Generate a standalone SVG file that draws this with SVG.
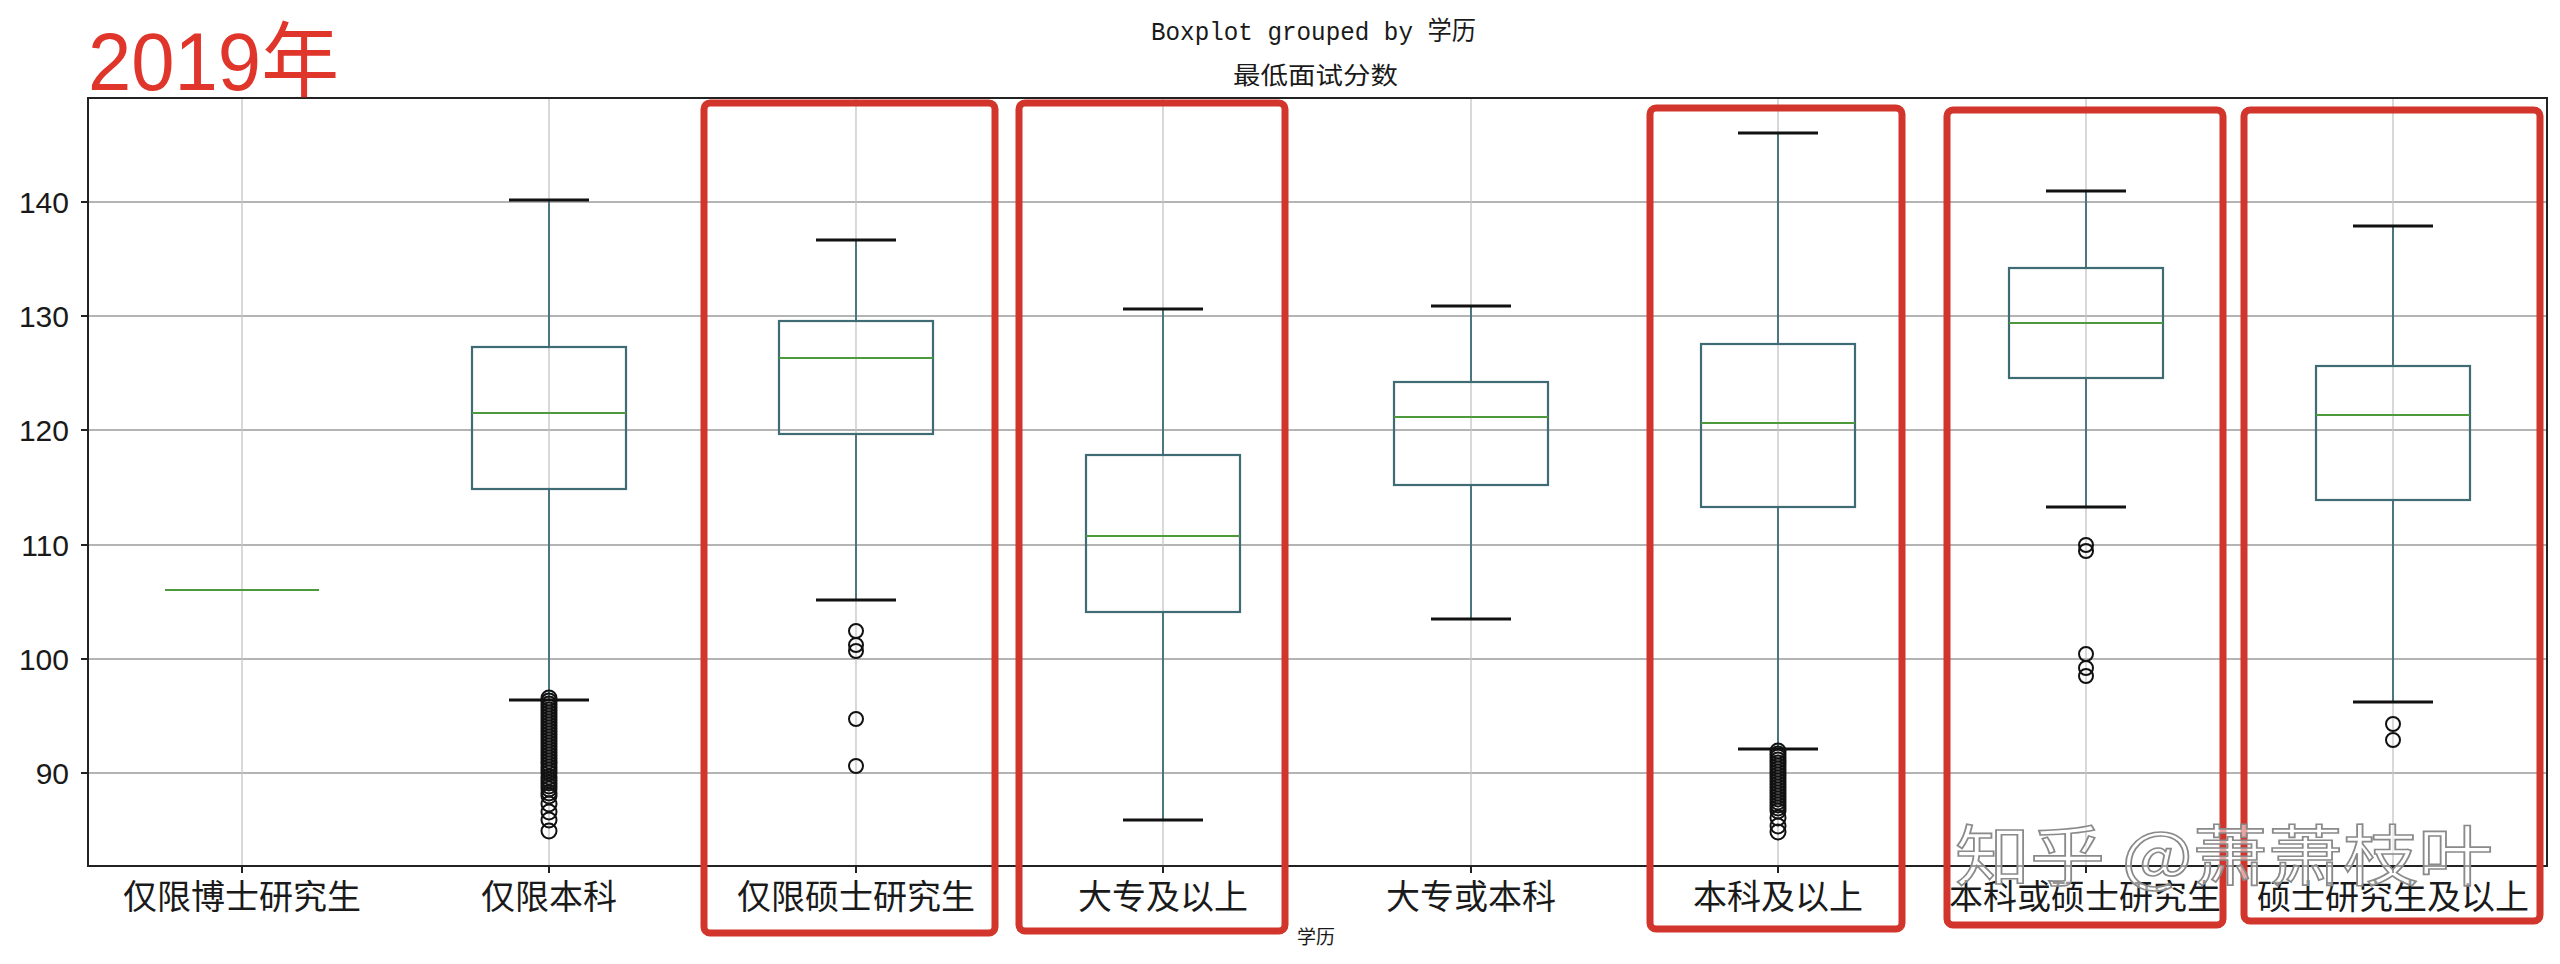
<svg xmlns="http://www.w3.org/2000/svg" width="2560" height="964" viewBox="0 0 2560 964">
<style>
.bg{fill:#ffffff}
.hgrid{stroke:#b4b4b4;stroke-width:2;fill:none}
.vgrid{stroke:#c4c4c4;stroke-width:1.3;fill:none}
.frame{stroke:#222;stroke-width:2;fill:none}
.tick{stroke:#222;stroke-width:2}
.box{stroke:#3f6b74;stroke-width:2.2;fill:none}
.whisk{stroke:#3f6b74;stroke-width:1.8}
.cap{stroke:#111;stroke-width:3}
.med{stroke:#4c9a3c;stroke-width:2.2}
.fl{stroke:#111;stroke-width:2;fill:none}
.hl{stroke:#d1352b;stroke-width:7;fill:none}
.ylab{font-family:"Liberation Sans",Arial,sans-serif;font-size:30px;fill:#1a1a1a;text-anchor:end}
.xlab{font-family:"Noto Sans CJK SC","Liberation Sans",sans-serif;font-size:34px;fill:#1a1a1a;text-anchor:middle}
.title{font-family:"Liberation Mono","Noto Sans CJK SC",monospace;font-size:26px;fill:#1a1a1a}
.sub{font-family:"Noto Sans CJK SC",sans-serif;font-size:24px;fill:#1a1a1a}
.year{font-family:"Liberation Sans","Noto Sans CJK SC",sans-serif;font-size:82px;fill:#e0352b}
.wm{font-family:"Noto Sans CJK SC",sans-serif;font-size:66px;fill:#ffffff;fill-opacity:0.55;stroke:#8a8a8a;stroke-width:1.6}
</style>
<rect class="bg" x="0" y="0" width="2560" height="964"/>

<g id="grid">
<line class="hgrid" x1="88" y1="202" x2="2547" y2="202"/>
<line class="hgrid" x1="88" y1="316" x2="2547" y2="316"/>
<line class="hgrid" x1="88" y1="430" x2="2547" y2="430"/>
<line class="hgrid" x1="88" y1="545" x2="2547" y2="545"/>
<line class="hgrid" x1="88" y1="659" x2="2547" y2="659"/>
<line class="hgrid" x1="88" y1="773" x2="2547" y2="773"/>
<line class="vgrid" x1="242" y1="98" x2="242" y2="866"/>
<line class="vgrid" x1="549" y1="98" x2="549" y2="866"/>
<line class="vgrid" x1="856" y1="98" x2="856" y2="866"/>
<line class="vgrid" x1="1163" y1="98" x2="1163" y2="866"/>
<line class="vgrid" x1="1471" y1="98" x2="1471" y2="866"/>
<line class="vgrid" x1="1778" y1="98" x2="1778" y2="866"/>
<line class="vgrid" x1="2086" y1="98" x2="2086" y2="866"/>
<line class="vgrid" x1="2393" y1="98" x2="2393" y2="866"/>
</g>

<g id="axes">
<rect class="frame" x="88" y="98" width="2459" height="768"/>
<line class="tick" x1="81" y1="202" x2="88" y2="202"/>
<line class="tick" x1="81" y1="316" x2="88" y2="316"/>
<line class="tick" x1="81" y1="430" x2="88" y2="430"/>
<line class="tick" x1="81" y1="545" x2="88" y2="545"/>
<line class="tick" x1="81" y1="659" x2="88" y2="659"/>
<line class="tick" x1="81" y1="773" x2="88" y2="773"/>
<line class="tick" x1="242" y1="866" x2="242" y2="873"/>
<line class="tick" x1="549" y1="866" x2="549" y2="873"/>
<line class="tick" x1="856" y1="866" x2="856" y2="873"/>
<line class="tick" x1="1163" y1="866" x2="1163" y2="873"/>
<line class="tick" x1="1471" y1="866" x2="1471" y2="873"/>
<line class="tick" x1="1778" y1="866" x2="1778" y2="873"/>
<line class="tick" x1="2086" y1="866" x2="2086" y2="873"/>
<line class="tick" x1="2393" y1="866" x2="2393" y2="873"/>
<text class="ylab" x="69" y="213">140</text>
<text class="ylab" x="69" y="327">130</text>
<text class="ylab" x="69" y="441">120</text>
<text class="ylab" x="69" y="556">110</text>
<text class="ylab" x="69" y="670">100</text>
<text class="ylab" x="69" y="784">90</text>
<text class="xlab" x="242" y="909">仅限博士研究生</text>
<text class="xlab" x="549" y="909">仅限本科</text>
<text class="xlab" x="856" y="909">仅限硕士研究生</text>
<text class="xlab" x="1163" y="909">大专及以上</text>
<text class="xlab" x="1471" y="909">大专或本科</text>
<text class="xlab" x="1778" y="909">本科及以上</text>
<text class="xlab" x="2085" y="909">本科或硕士研究生</text>
<text class="xlab" x="2393" y="909">硕士研究生及以上</text>
<text class="sub" x="1316" y="944" text-anchor="middle" style="font-size:19px">学历</text>
</g>

<g id="titles">
<text class="title" x="1151" y="40" textLength="325" lengthAdjust="spacingAndGlyphs">Boxplot grouped by 学历</text>
<text class="sub" x="1233" y="84" textLength="165" lengthAdjust="spacingAndGlyphs">最低面试分数</text>
<text class="year" x="88" y="90" textLength="251" lengthAdjust="spacingAndGlyphs">2019年</text>
</g>

<g id="box-1">
<line class="med" x1="165" y1="590" x2="319" y2="590"/>
</g>

<g id="box-2">
<line class="whisk" x1="549" y1="200" x2="549" y2="347"/>
<line class="whisk" x1="549" y1="489" x2="549" y2="700"/>
<line class="cap" x1="509" y1="200" x2="589" y2="200"/>
<line class="cap" x1="509" y1="700" x2="589" y2="700"/>
<rect class="box" x="472" y="347" width="154" height="142"/>
<line class="med" x1="472" y1="413" x2="626" y2="413"/>
<g class="fl">
<circle cx="549" cy="698" r="7.5"/><circle cx="549" cy="701" r="7.5"/><circle cx="549" cy="704" r="7.5"/><circle cx="549" cy="707" r="7.5"/><circle cx="549" cy="710" r="7.5"/><circle cx="549" cy="713" r="7.5"/><circle cx="549" cy="716" r="7.5"/><circle cx="549" cy="719" r="7.5"/><circle cx="549" cy="722" r="7.5"/><circle cx="549" cy="725" r="7.5"/><circle cx="549" cy="728" r="7.5"/><circle cx="549" cy="731" r="7.5"/><circle cx="549" cy="734" r="7.5"/><circle cx="549" cy="737" r="7.5"/><circle cx="549" cy="740" r="7.5"/><circle cx="549" cy="743" r="7.5"/><circle cx="549" cy="746" r="7.5"/><circle cx="549" cy="749" r="7.5"/><circle cx="549" cy="752" r="7.5"/><circle cx="549" cy="755" r="7.5"/><circle cx="549" cy="758" r="7.5"/><circle cx="549" cy="761" r="7.5"/><circle cx="549" cy="764" r="7.5"/><circle cx="549" cy="767" r="7.5"/><circle cx="549" cy="770" r="7.5"/><circle cx="549" cy="773" r="7.5"/><circle cx="549" cy="777" r="7.5"/><circle cx="549" cy="780" r="7.5"/><circle cx="549" cy="783" r="7.5"/><circle cx="549" cy="786" r="7.5"/><circle cx="549" cy="789" r="7.5"/><circle cx="549" cy="793" r="7.5"/><circle cx="549" cy="796" r="7.5"/><circle cx="549" cy="804" r="7.5"/><circle cx="549" cy="812" r="7.5"/><circle cx="549" cy="820" r="7.5"/><circle cx="549" cy="831" r="7.5"/>
</g>
</g>

<g id="box-3">
<line class="whisk" x1="856" y1="240" x2="856" y2="321"/>
<line class="whisk" x1="856" y1="434" x2="856" y2="600"/>
<line class="cap" x1="816" y1="240" x2="896" y2="240"/>
<line class="cap" x1="816" y1="600" x2="896" y2="600"/>
<rect class="box" x="779" y="321" width="154" height="113"/>
<line class="med" x1="779" y1="358" x2="933" y2="358"/>
<g class="fl">
<circle cx="856" cy="631" r="7"/><circle cx="856" cy="645" r="7"/><circle cx="856" cy="651" r="7"/><circle cx="856" cy="719" r="7"/><circle cx="856" cy="766" r="7"/>
</g>
</g>

<g id="box-4">
<line class="whisk" x1="1163" y1="309" x2="1163" y2="455"/>
<line class="whisk" x1="1163" y1="612" x2="1163" y2="820"/>
<line class="cap" x1="1123" y1="309" x2="1203" y2="309"/>
<line class="cap" x1="1123" y1="820" x2="1203" y2="820"/>
<rect class="box" x="1086" y="455" width="154" height="157"/>
<line class="med" x1="1086" y1="536" x2="1240" y2="536"/>
</g>

<g id="box-5">
<line class="whisk" x1="1471" y1="306" x2="1471" y2="382"/>
<line class="whisk" x1="1471" y1="485" x2="1471" y2="619"/>
<line class="cap" x1="1431" y1="306" x2="1511" y2="306"/>
<line class="cap" x1="1431" y1="619" x2="1511" y2="619"/>
<rect class="box" x="1394" y="382" width="154" height="103"/>
<line class="med" x1="1394" y1="417" x2="1548" y2="417"/>
</g>

<g id="box-6">
<line class="whisk" x1="1778" y1="133" x2="1778" y2="344"/>
<line class="whisk" x1="1778" y1="507" x2="1778" y2="749"/>
<line class="cap" x1="1738" y1="133" x2="1818" y2="133"/>
<line class="cap" x1="1738" y1="749" x2="1818" y2="749"/>
<rect class="box" x="1701" y="344" width="154" height="163"/>
<line class="med" x1="1701" y1="423" x2="1855" y2="423"/>
<g class="fl">
<circle cx="1778" cy="751" r="7.5"/><circle cx="1778" cy="754" r="7.5"/><circle cx="1778" cy="757" r="7.5"/><circle cx="1778" cy="760" r="7.5"/><circle cx="1778" cy="763" r="7.5"/><circle cx="1778" cy="766" r="7.5"/><circle cx="1778" cy="769" r="7.5"/><circle cx="1778" cy="772" r="7.5"/><circle cx="1778" cy="775" r="7.5"/><circle cx="1778" cy="778" r="7.5"/><circle cx="1778" cy="781" r="7.5"/><circle cx="1778" cy="784" r="7.5"/><circle cx="1778" cy="787" r="7.5"/><circle cx="1778" cy="790" r="7.5"/><circle cx="1778" cy="793" r="7.5"/><circle cx="1778" cy="796" r="7.5"/><circle cx="1778" cy="799" r="7.5"/><circle cx="1778" cy="802" r="7.5"/><circle cx="1778" cy="805" r="7.5"/><circle cx="1778" cy="808" r="7.5"/><circle cx="1778" cy="811" r="7.5"/><circle cx="1778" cy="818" r="7.5"/><circle cx="1778" cy="826" r="7.5"/><circle cx="1778" cy="832" r="7.5"/>
</g>
</g>

<g id="box-7">
<line class="whisk" x1="2086" y1="191" x2="2086" y2="268"/>
<line class="whisk" x1="2086" y1="378" x2="2086" y2="507"/>
<line class="cap" x1="2046" y1="191" x2="2126" y2="191"/>
<line class="cap" x1="2046" y1="507" x2="2126" y2="507"/>
<rect class="box" x="2009" y="268" width="154" height="110"/>
<line class="med" x1="2009" y1="323" x2="2163" y2="323"/>
<g class="fl">
<circle cx="2086" cy="545" r="7"/><circle cx="2086" cy="551" r="7"/><circle cx="2086" cy="654" r="7"/><circle cx="2086" cy="668" r="7"/><circle cx="2086" cy="676" r="7"/>
</g>
</g>

<g id="box-8">
<line class="whisk" x1="2393" y1="226" x2="2393" y2="366"/>
<line class="whisk" x1="2393" y1="500" x2="2393" y2="702"/>
<line class="cap" x1="2353" y1="226" x2="2433" y2="226"/>
<line class="cap" x1="2353" y1="702" x2="2433" y2="702"/>
<rect class="box" x="2316" y="366" width="154" height="134"/>
<line class="med" x1="2316" y1="415" x2="2470" y2="415"/>
<g class="fl">
<circle cx="2393" cy="724" r="7"/><circle cx="2393" cy="740" r="7"/>
</g>
</g>

<g id="highlights">
<rect class="hl" x="704" y="103" width="291" height="830" rx="6"/>
<rect class="hl" x="1019" y="103" width="266" height="828" rx="6"/>
<rect class="hl" x="1650" y="108" width="252" height="821" rx="6"/>
<rect class="hl" x="1947" y="110" width="276" height="815" rx="6"/>
<rect class="hl" x="2244" y="110" width="296" height="811" rx="6"/>
</g>

<g id="watermark">
<text class="wm" x="1955" y="880" textLength="538" lengthAdjust="spacingAndGlyphs">知乎 @萧萧枝叶</text>
</g>
</svg>
